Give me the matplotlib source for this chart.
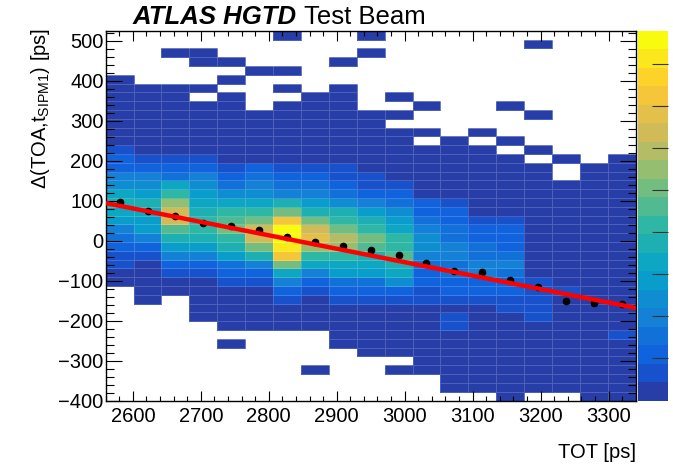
import numpy as np
import matplotlib
matplotlib.use('Agg')
import matplotlib.pyplot as plt
from matplotlib.colors import ListedColormap, BoundaryNorm, LinearSegmentedColormap
from matplotlib.ticker import MultipleLocator

plt.rcParams['font.family'] = ['Liberation Sans', 'DejaVu Sans']
plt.rcParams['mathtext.fontset'] = 'custom'
plt.rcParams['mathtext.rm'] = 'Liberation Sans'
plt.rcParams['mathtext.it'] = 'Liberation Sans:italic'

# binning of the 2D histogram
x_lo, x_hi, n_x = 2560, 3340, 19
y_lo, y_hi, n_y = -400, 525, 42
z_max = 88

# bin contents, one list per TOA row, from the top row (y_hi) down to y_lo
counts = [
    [0, 0, 0, 0, 0, 0, 1, 0, 0, 1, 0, 0, 0, 0, 0, 0, 0, 0, 0],
    [0, 0, 0, 0, 0, 0, 0, 0, 0, 0, 0, 0, 0, 0, 0, 1, 0, 0, 0],
    [0, 0, 1, 1, 0, 0, 0, 0, 0, 1, 0, 0, 0, 0, 0, 0, 0, 0, 0],
    [0, 0, 0, 1, 1, 0, 0, 0, 1, 0, 0, 0, 0, 0, 0, 0, 0, 0, 0],
    [0, 0, 0, 0, 0, 1, 1, 0, 0, 0, 0, 0, 0, 0, 0, 0, 0, 0, 0],
    [1, 0, 0, 0, 1, 0, 0, 0, 0, 0, 0, 0, 0, 0, 0, 0, 0, 0, 0],
    [1, 1, 1, 1, 0, 0, 1, 0, 1, 0, 0, 0, 0, 0, 0, 0, 0, 0, 0],
    [1, 1, 1, 0, 1, 0, 0, 1, 1, 0, 1, 0, 0, 0, 0, 0, 0, 0, 0],
    [1, 1, 1, 1, 1, 0, 1, 1, 1, 0, 0, 1, 0, 0, 1, 0, 0, 0, 0],
    [1, 1, 1, 1, 1, 1, 1, 1, 1, 1, 1, 0, 0, 0, 0, 1, 0, 0, 0],
    [2, 2, 2, 2, 2, 2, 2, 2, 2, 2, 0, 0, 0, 0, 0, 0, 0, 0, 0],
    [2, 2, 2, 2, 2, 2, 2, 2, 2, 2, 2, 1, 0, 1, 0, 0, 0, 0, 0],
    [2, 2, 2, 2, 2, 2, 2, 2, 2, 2, 2, 0, 1, 0, 1, 0, 0, 0, 0],
    [7, 2, 2, 2, 2, 2, 2, 2, 2, 2, 2, 2, 2, 1, 0, 1, 0, 0, 0],
    [11, 7, 7, 7, 2, 2, 2, 2, 2, 2, 2, 2, 2, 2, 1, 0, 1, 0, 1],
    [11, 11, 11, 11, 7, 11, 7, 7, 7, 3, 2, 2, 2, 2, 2, 1, 0, 1, 1],
    [20, 20, 15, 20, 11, 15, 11, 11, 7, 7, 3, 2, 2, 2, 2, 2, 0, 1, 1],
    [24, 24, 33, 24, 15, 20, 15, 15, 11, 7, 7, 3, 2, 2, 2, 2, 1, 1, 1],
    [33, 29, 42, 29, 24, 24, 20, 20, 15, 11, 11, 3, 2, 2, 2, 2, 1, 1, 1],
    [37, 37, 55, 33, 33, 33, 37, 29, 24, 20, 15, 11, 7, 2, 2, 2, 2, 1, 1],
    [33, 33, 64, 37, 42, 42, 51, 37, 37, 29, 24, 11, 11, 2, 2, 2, 2, 2, 1],
    [29, 29, 64, 42, 46, 51, 73, 51, 42, 37, 29, 15, 11, 7, 7, 2, 2, 2, 2],
    [20, 29, 46, 42, 51, 64, 86, 64, 51, 42, 33, 20, 15, 11, 11, 2, 2, 2, 2],
    [15, 20, 37, 37, 42, 64, 87, 68, 59, 51, 42, 24, 15, 11, 11, 2, 2, 2, 2],
    [11, 11, 29, 29, 37, 51, 81, 55, 55, 46, 42, 24, 20, 15, 11, 3, 2, 2, 2],
    [7, 7, 20, 20, 29, 37, 73, 42, 42, 37, 46, 20, 20, 15, 15, 3, 2, 2, 2],
    [7, 2, 11, 11, 15, 20, 51, 33, 33, 33, 37, 15, 15, 20, 20, 3, 2, 2, 2],
    [2, 2, 7, 7, 11, 11, 33, 20, 29, 29, 33, 11, 15, 20, 15, 3, 2, 2, 2],
    [2, 2, 2, 2, 7, 7, 20, 11, 15, 15, 24, 11, 11, 11, 11, 7, 2, 2, 2],
    [0, 2, 2, 2, 2, 2, 11, 7, 11, 11, 11, 7, 11, 11, 11, 7, 7, 2, 2],
    [0, 2, 0, 2, 2, 2, 7, 2, 7, 7, 7, 7, 7, 7, 7, 7, 2, 2, 2],
    [0, 0, 0, 2, 2, 2, 2, 2, 2, 2, 2, 2, 2, 2, 7, 7, 2, 2, 2],
    [0, 0, 0, 2, 2, 2, 2, 2, 2, 2, 2, 2, 7, 2, 2, 7, 2, 2, 2],
    [0, 0, 0, 0, 2, 2, 2, 2, 2, 2, 2, 2, 7, 2, 2, 2, 2, 2, 2],
    [0, 0, 0, 0, 0, 0, 0, 0, 1, 2, 2, 2, 2, 2, 2, 2, 2, 2, 7],
    [0, 0, 0, 0, 1, 0, 0, 0, 1, 1, 1, 2, 2, 2, 2, 2, 2, 2, 2],
    [0, 0, 0, 0, 0, 0, 0, 0, 0, 1, 1, 1, 2, 2, 2, 2, 2, 2, 2],
    [0, 0, 0, 0, 0, 0, 0, 0, 0, 0, 0, 1, 1, 1, 2, 2, 2, 2, 2],
    [0, 0, 0, 0, 0, 0, 0, 1, 0, 0, 1, 1, 1, 1, 2, 2, 1, 2, 2],
    [0, 0, 0, 0, 0, 0, 0, 0, 0, 0, 0, 0, 1, 1, 1, 2, 1, 2, 2],
    [0, 0, 0, 0, 0, 0, 0, 0, 0, 0, 0, 0, 1, 1, 1, 1, 1, 1, 1],
    [0, 0, 0, 0, 0, 0, 0, 0, 0, 0, 0, 0, 0, 0, 1, 0, 0, 1, 1],
]

# profile (mean TOA difference per TOT bin)
profile = [97, 75, 61, 44, 36, 27, 8, -4, -14, -24, -37, -56, -75, -79,
           -98, -115, -150, -156, -159]

# linear fit p0 + p1*TOT
fit_p0 = 954.0
fit_p1 = -0.336

# ROOT kBird palette
bird_stops = [0.0, 0.125, 0.25, 0.375, 0.5, 0.625, 0.75, 0.875, 1.0]
bird_r = [0.2082, 0.0592, 0.0780, 0.0232, 0.1802, 0.5301, 0.8186, 0.9956, 0.9764]
bird_g = [0.1664, 0.3599, 0.5041, 0.6419, 0.7178, 0.7492, 0.7328, 0.7862, 0.9832]
bird_b = [0.5293, 0.8684, 0.8385, 0.7914, 0.6425, 0.4662, 0.3499, 0.1968, 0.0539]
bird = LinearSegmentedColormap.from_list(
    'bird', list(zip(bird_stops, zip(bird_r, bird_g, bird_b))), N=255)
n_cont = 20
levels_col = [bird(int((i + 0.99) * 255 / n_cont) / 254.0) for i in range(n_cont)]
cmap = ListedColormap(levels_col)
norm = BoundaryNorm(np.linspace(0, z_max, n_cont + 1), n_cont)

W, H = 673, 467
fig = plt.figure(figsize=(W / 100, H / 100), dpi=100)
ax_l, ax_r, ax_t, ax_b = 105.7, 635.7, 30.7, 400.5
ax = fig.add_axes([ax_l / W, 1 - ax_b / H, (ax_r - ax_l) / W, (ax_b - ax_t) / H])

xedges = np.linspace(x_lo, x_hi, n_x + 1)
yedges = np.linspace(y_lo, y_hi, n_y + 1)
z = np.array(counts[::-1], dtype=float)
z = np.ma.masked_where(z <= 0, z)
mesh = ax.pcolormesh(xedges, yedges, z, cmap=cmap, norm=norm,
                     edgecolors=(1, 1, 1, 0.18), linewidth=0.5)

xc = 0.5 * (xedges[:-1] + xedges[1:])
ax.plot(xc, profile, 'o', color='black', ms=4.5, zorder=3)
xf = np.array([x_lo, x_hi])
ax.plot(xf, fit_p0 + fit_p1 * xf, color='red', lw=3.2, zorder=4,
        solid_capstyle='butt')

ax.set_xlim(x_lo, x_hi)
ax.set_ylim(y_lo, y_hi)
ax.xaxis.set_major_locator(MultipleLocator(100))
ax.xaxis.set_minor_locator(MultipleLocator(20))
ax.yaxis.set_major_locator(MultipleLocator(100))
ax.yaxis.set_minor_locator(MultipleLocator(20))
ax.tick_params(axis='x', which='major', direction='in', length=7.5, width=0.8,
               top=True, labelsize=14.5, pad=5)
ax.tick_params(axis='x', which='minor', direction='in', length=3.8, width=0.8, top=True)
ax.tick_params(axis='y', which='major', direction='in', length=11.5, width=0.8,
               right=True, labelsize=14.5, pad=1.5)
ax.tick_params(axis='y', which='minor', direction='in', length=5.8, width=0.8, right=True)
for s in ax.spines.values():
    s.set_linewidth(1.0)

ax.set_xlabel('TOT [ps]', fontsize=14.5, loc='right')
ax.xaxis.set_label_coords(1.0, -(452 - ax_b) / (ax_b - ax_t))
ax.xaxis.label.set_va('center')
ax.set_ylabel(r'Δ(TOA,t$_{\mathrm{SIPM1}}$) [ps]', fontsize=14.5, loc='top')
ax.yaxis.set_label_coords(-(ax_l - 52) / (ax_r - ax_l), 1.008)

cax = fig.add_axes([637.7 / W, 1 - ax_b / H, 30 / W, (ax_b - ax_t) / H])
cb = fig.colorbar(mesh, cax=cax, ticks=np.arange(10, 81, 10))
cb.outline.set_visible(False)
cax.tick_params(direction='in', length=11.5, width=0.8, labelright=False,
                color='#333333')
cax.minorticks_off()

t1 = fig.text(133 / W, 1 - 24 / H, 'ATLAS HGTD', fontsize=18.5, fontweight='bold',
              style='italic', va='baseline', ha='left')
fig.canvas.draw()
bb = t1.get_window_extent()
fig.text(bb.x1 / W + 7 / W, 1 - 24 / H, 'Test Beam', fontsize=18.5,
         va='baseline', ha='left')

fig.savefig('out.png', dpi=100)
